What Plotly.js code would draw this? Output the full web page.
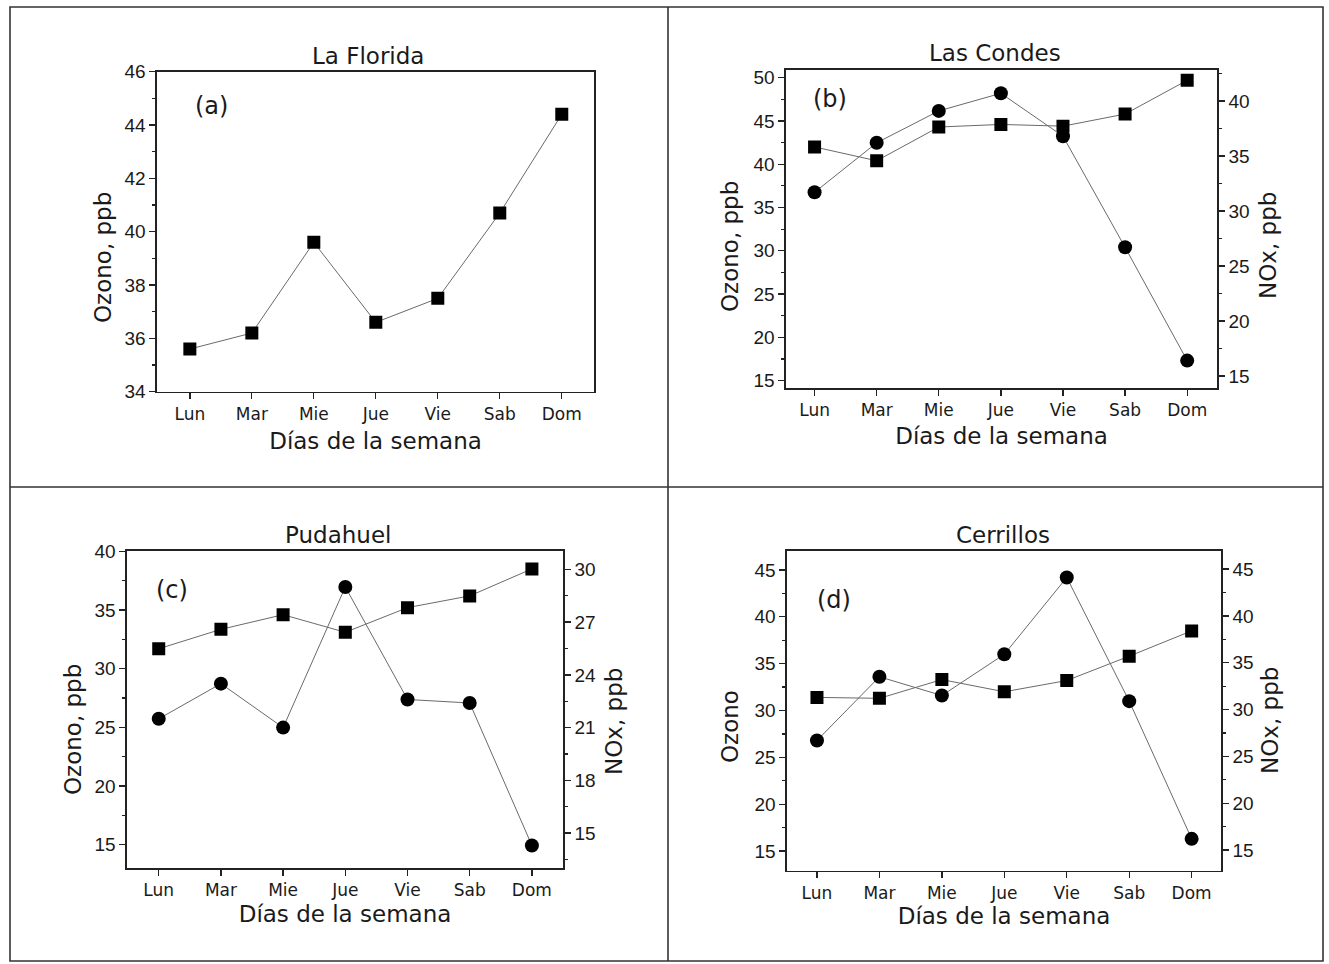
<!DOCTYPE html>
<html>
<head>
<meta charset="utf-8">
<script src="https://cdn.plot.ly/plotly-3.0.1.min.js"></script>
<style>html,body{margin:0;padding:0;background:#fff;}#chart{width:1329px;height:964px;}</style>
</head>
<body>
<div id="chart"></div>
<script>
// ---------- data ----------
const days = ['Lun', 'Mar', 'Mie', 'Jue', 'Vie', 'Sab', 'Dom'];
const floridaO3 = [35.6, 36.2, 39.6, 36.6, 37.5, 40.7, 44.4];
const condesO3 = [42.0, 40.4, 44.3, 44.6, 44.4, 45.8, 49.7];
const condesNOx = [31.7, 36.2, 39.1, 40.7, 36.8, 26.7, 16.4];
const pudahuelO3 = [31.7, 33.35, 34.6, 33.1, 35.2, 36.2, 38.5];
const pudahuelNOx = [21.5, 23.5, 21.0, 29.0, 22.6, 22.4, 14.3];
const cerrillosO3 = [31.4, 31.3, 33.3, 32.0, 33.2, 35.8, 38.5];
const cerrillosNOx = [26.7, 33.5, 31.5, 35.9, 44.1, 30.9, 16.2];
const panelTitles = ['La Florida', 'Las Condes', 'Pudahuel', 'Cerrillos'];
const panelTags = ['(a)', '(b)', '(c)', '(d)'];
const xTitle = 'Días de la semana';
const o3Title = 'Ozono, ppb';
const o3TitleD = 'Ozono';
const noxTitle = 'NOx, ppb';

// ---------- helpers (layout only) ----------
const W = 1329, H = 964;
const px = v => v / W;
const py = v => 1 - v / H;
const TXT = '#1a1a1a';
const FONT = 'DejaVu Sans, Verdana, sans-serif';
const NUMFONT = 'Liberation Sans, Arial, sans-serif';

function sq(x, y, xa, ya) {
  return {x: x, y: y, xaxis: xa, yaxis: ya, type: 'scatter', mode: 'lines+markers',
    line: {color: '#6a6a6a', width: 1}, marker: {symbol: 'square', size: 13, color: '#000'},
    hoverinfo: 'skip', showlegend: false};
}
function ci(x, y, xa, ya) {
  return {x: x, y: y, xaxis: xa, yaxis: ya, type: 'scatter', mode: 'lines+markers',
    line: {color: '#6a6a6a', width: 1}, marker: {symbol: 'circle', size: 14, color: '#000'},
    hoverinfo: 'skip', showlegend: false};
}

const data = [
  sq(days, floridaO3, 'x', 'y'),
  sq(days, condesO3, 'x2', 'y2'),
  ci(days, condesNOx, 'x2', 'y5'),
  sq(days, pudahuelO3, 'x3', 'y3'),
  ci(days, pudahuelNOx, 'x3', 'y6'),
  sq(days, cerrillosO3, 'x4', 'y4'),
  ci(days, cerrillosNOx, 'x4', 'y7')
];

function xax(d, yanchor, range, standoff) {
  return {domain: d, anchor: yanchor, type: 'category', range: range,
    showgrid: false, zeroline: false, showline: true, linecolor: '#222', linewidth: 1.6,
    mirror: true, ticks: 'outside', ticklen: 6, tickwidth: 1.3, tickcolor: '#222',
    tickfont: {family: FONT, size: 17, color: TXT},
    title: {text: xTitle, font: {family: FONT, size: 23, color: TXT}, standoff: standoff}};
}
function yax(d, xanchor, range, dtick, minorD) {
  return {domain: d, anchor: xanchor, range: range, dtick: dtick, tick0: 0,
    showgrid: false, zeroline: false, showline: true, linecolor: '#222', linewidth: 1.6,
    mirror: true, ticks: 'outside', ticklen: 6, tickwidth: 1.3, tickcolor: '#222',
    tickfont: {family: NUMFONT, size: 19, color: TXT},
    minor: {dtick: minorD, tick0: 0, ticks: 'outside', ticklen: 3, tickwidth: 1.2, tickcolor: '#222', showgrid: false}};
}
function yr(over, xanchor, range, dtick, minorD) {
  return {overlaying: over, side: 'right', anchor: xanchor, range: range, dtick: dtick, tick0: 0,
    showgrid: false, zeroline: false, showline: true, linecolor: '#222', linewidth: 1.6,
    ticks: 'outside', ticklen: 6, tickwidth: 1.3, tickcolor: '#222',
    tickfont: {family: NUMFONT, size: 19, color: TXT},
    minor: {dtick: minorD, tick0: 0, ticks: 'outside', ticklen: 3, tickwidth: 1.2, tickcolor: '#222', showgrid: false}};
}

// panel boxes in pixels
const A = {l: 157, r: 594, t: 71.7, b: 391.7};
const B = {l: 786, r: 1217, t: 70, b: 388.3};
const C = {l: 127, r: 563, t: 550.7, b: 868.3};
const D = {l: 787, r: 1221, t: 550.7, b: 870.7};
const dx = p => [px(p.l), px(p.r)];
const dy = p => [py(p.b), py(p.t)];

const layout = {
  width: W, height: H, margin: {l: 0, r: 0, t: 0, b: 0},
  paper_bgcolor: '#fff', plot_bgcolor: 'rgba(0,0,0,0)', showlegend: false,
  xaxis: xax(dx(A), 'y', [-0.53, 6.52], 10),
  yaxis: yax(dy(A), 'x', [34, 46], 2, 1),
  xaxis2: xax(dx(B), 'y2', [-0.46, 6.48], 8),
  yaxis2: yax(dy(B), 'x2', [14.11, 50.89], 5, 2.5),
  yaxis5: yr('y2', 'x2', [13.88, 42.82], 5, 2.5),
  xaxis3: xax(dx(C), 'y3', [-0.51, 6.5], 6),
  yaxis3: yax(dy(C), 'x3', [13.0, 40.05], 5, 2.5),
  yaxis6: yr('y3', 'x3', [13.0, 31.06], 3, 1.5),
  xaxis4: xax(dx(D), 'y4', [-0.48, 6.47], 6),
  yaxis4: yax(dy(D), 'x4', [12.9, 47.06], 5, 2.5),
  yaxis7: yr('y4', 'x4', [12.8, 46.96], 5, 2.5),
  shapes: [
    {type: 'rect', xref: 'paper', yref: 'paper', x0: px(10), x1: px(1323), y0: py(961), y1: py(7), line: {color: '#333', width: 1.6}},
    {type: 'line', xref: 'paper', yref: 'paper', x0: px(668), x1: px(668), y0: py(961), y1: py(7), line: {color: '#333', width: 1.6}},
    {type: 'line', xref: 'paper', yref: 'paper', x0: px(10), x1: px(1323), y0: py(487), y1: py(487), line: {color: '#333', width: 1.6}}
  ],
  annotations: []
};

function ann(text, x, y, size, angle) {
  layout.annotations.push({text: text, xref: 'paper', yref: 'paper', x: px(x), y: py(y),
    xanchor: 'center', yanchor: 'middle', showarrow: false, textangle: angle || 0,
    font: {family: FONT, size: size, color: TXT}});
}
// panel titles
ann(panelTitles[0], 368, 56, 23);
ann(panelTitles[1], 995, 53, 23);
ann(panelTitles[2], 338, 535, 23);
ann(panelTitles[3], 1003, 535, 23);
// panel tags
ann(panelTags[0], 211, 106, 24);
ann(panelTags[1], 830, 99, 24);
ann(panelTags[2], 172, 590, 24);
ann(panelTags[3], 834, 600, 24);
// y titles
ann(o3Title, 103, 258, 23, -90);
ann(o3Title, 730, 247, 23, -90);
ann(noxTitle, 1268, 246, 23, -90);
ann(o3Title, 73, 730, 23, -90);
ann(noxTitle, 614, 722, 23, -90);
ann(o3TitleD, 730, 727, 23, -90);
ann(noxTitle, 1270, 721, 23, -90);

Plotly.newPlot('chart', data, layout, {displayModeBar: false, staticPlot: true});
</script>
</body>
</html>
